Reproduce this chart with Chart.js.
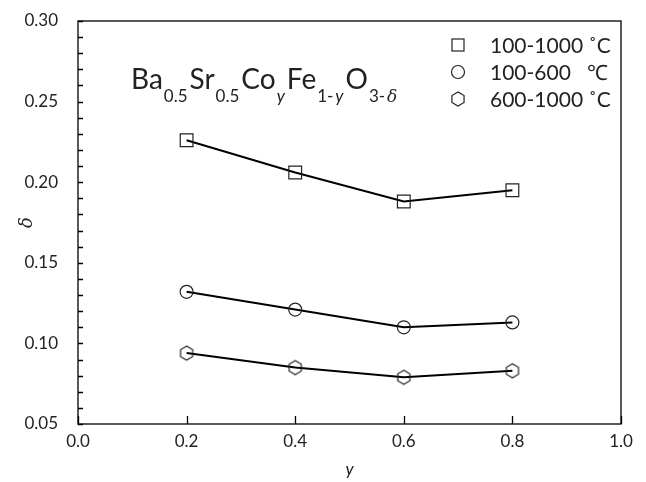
<!DOCTYPE html>
<html>
<head>
<meta charset="UTF-8">
<title>delta vs y</title>
<script src="https://cdn.jsdelivr.net/npm/chart.js"></script>
<style>
  body { margin: 0; background: #fff; }
  #wrap { width: 646px; height: 482px; }
</style>
</head>
<body>
<div id="wrap"><canvas id="c" width="646" height="482"></canvas></div>
<script>
// data
const yComp = [0.2, 0.4, 0.6, 0.8];
const delta100to1000 = [0.226, 0.206, 0.188, 0.195];
const delta100to600 = [0.132, 0.121, 0.110, 0.113];
const delta600to1000 = [0.094, 0.085, 0.079, 0.083];
const seriesLabels = ['100-1000 ˚C', '100-600   ℃', '600-1000 ˚C'];
const xTicks = [0.0, 0.2, 0.4, 0.6, 0.8, 1.0];
const yTicks = [0.05, 0.10, 0.15, 0.20, 0.25, 0.30];

const FONT = 'Lato, "Open Sans", sans-serif';
const INK = '#222';

// hexagon marker (pointy top)
function hexagon(r) {
  const s = Math.ceil(2 * r + 4);
  const cv = document.createElement('canvas');
  cv.width = s; cv.height = s;
  const g = cv.getContext('2d');
  g.strokeStyle = INK;
  g.lineWidth = 1.2;
  g.beginPath();
  for (let k = 0; k < 6; k++) {
    const a = Math.PI / 2 + k * Math.PI / 3;
    const px = s / 2 + r * Math.cos(a), py = s / 2 - r * Math.sin(a);
    if (k === 0) g.moveTo(px, py); else g.lineTo(px, py);
  }
  g.closePath();
  g.stroke();
  return cv;
}
const hexImg = hexagon(7);

function pts(vals) {
  return yComp.map((x, i) => ({ x: x, y: vals[i] }));
}

function series(label, vals, style, radius) {
  return {
    label: label,
    data: pts(vals),
    showLine: true,
    borderColor: '#000',
    borderWidth: 2,
    pointStyle: style,
    pointRadius: radius,
    pointBorderColor: INK,
    pointBorderWidth: 1.2,
    pointBackgroundColor: 'rgba(0,0,0,0)',
    tension: 0
  };
}

// frame, inward ticks, axis titles, legend, formula
const decor = {
  id: 'decor',
  afterDraw(chart) {
    const ctx = chart.ctx;
    const a = chart.chartArea;
    const xs = chart.scales.x, ys = chart.scales.y;
    ctx.save();
    ctx.strokeStyle = '#000';
    ctx.lineWidth = 1.3;
    ctx.strokeRect(a.left, a.top, a.right - a.left, a.bottom - a.top);

    ctx.beginPath();
    for (let v = 5; v <= 30; v++) {
      const py = Math.round(ys.getPixelForValue(v / 100)) + 0.5;
      ctx.moveTo(a.left, py); ctx.lineTo(a.left + 5, py);
    }
    xTicks.forEach(v => {
      const px = Math.round(xs.getPixelForValue(v)) + 0.5;
      ctx.moveTo(px, a.bottom); ctx.lineTo(px, a.bottom - 8);
    });
    ctx.stroke();

    // axis titles
    ctx.fillStyle = INK;
    ctx.textAlign = 'center';
    ctx.textBaseline = 'middle';
    ctx.font = 'italic 17px ' + FONT;
    ctx.fillText('y', (a.left + a.right) / 2, 470);
    ctx.save();
    ctx.translate(27, (a.top + a.bottom) / 2);
    ctx.rotate(-Math.PI / 2);
    ctx.font = 'italic 18px "DejaVu Serif", serif';
    ctx.fillText('δ', 0, 0);
    ctx.restore();

    // legend
    ctx.font = '21px ' + FONT;
    ctx.textAlign = 'left';
    chart.data.datasets.forEach((ds, i) => {
      const cy = 45 + 27 * i;
      const cx = 458;
      ctx.strokeStyle = INK;
      ctx.lineWidth = 1.2;
      if (ds.pointStyle === 'rect') {
        ctx.strokeRect(cx - 6, cy - 6, 12, 12);
      } else if (ds.pointStyle === 'circle') {
        ctx.beginPath(); ctx.arc(cx, cy, 6.5, 0, Math.PI * 2); ctx.stroke();
      } else {
        ctx.drawImage(hexImg, cx - hexImg.width / 2, cy - hexImg.height / 2);
      }
      ctx.fillStyle = INK;
      ctx.fillText(ds.label, 490, cy + 1);
    });

    // formula Ba0.5Sr0.5CoyFe1-yO3-δ
    const parts = [
      ['Ba', 0, 0], ['0.5', 1, 0], ['Sr', 0, 0], ['0.5', 1, 0], ['Co', 0, 0], ['y', 1, 1],
      ['Fe', 0, 0], ['1-', 1, 0], ['y', 1, 1], ['O', 0, 0], ['3-', 1, 0], ['δ', 1, 2]
    ];
    let x = 131;
    const base = 89;
    ctx.textBaseline = 'alphabetic';
    parts.forEach(p => {
      if (p[1] === 0) ctx.font = '28px ' + FONT;
      else if (p[2] === 1) ctx.font = 'italic 17px ' + FONT;
      else if (p[2] === 2) ctx.font = 'italic 17px "DejaVu Serif", serif';
      else ctx.font = '17px ' + FONT;
      ctx.fillText(p[0], x, p[1] ? base + 13 : base);
      x += ctx.measureText(p[0]).width + (p[1] ? 2 : 1);
    });
    ctx.restore();
  }
};

new Chart(document.getElementById('c'), {
  type: 'scatter',
  data: {
    datasets: [
      series(seriesLabels[0], delta100to1000, 'rect', 9),
      series(seriesLabels[1], delta100to600, 'circle', 6.5),
      series(seriesLabels[2], delta600to1000, hexImg, 7)
    ]
  },
  options: {
    responsive: false,
    animation: false,
    layout: { padding: { top: 21, right: 25, left: 0, bottom: 0 } },
    plugins: { legend: { display: false }, tooltip: { enabled: false } },
    scales: {
      x: {
        type: 'linear',
        min: 0, max: 1,
        afterBuildTicks: s => { s.ticks = xTicks.map(v => ({ value: v })); },
        afterFit: s => { s.height = 58; s.paddingLeft = 0; s.paddingRight = 0; },
        grid: { display: false, drawTicks: false },
        border: { display: false },
        ticks: {
          padding: 7,
          color: INK,
          font: { family: FONT, size: 17 },
          callback: v => Number(v).toFixed(1)
        }
      },
      y: {
        min: 0.05, max: 0.30,
        afterBuildTicks: s => { s.ticks = yTicks.map(v => ({ value: v })); },
        afterFit: s => { s.width = 78; s.paddingTop = 0; s.paddingBottom = 0; },
        grid: { display: false, drawTicks: false },
        border: { display: false },
        ticks: {
          padding: 20,
          color: INK,
          font: { family: FONT, size: 17 },
          callback: v => Number(v).toFixed(2)
        }
      }
    }
  },
  plugins: [decor]
});
</script>
</body>
</html>
